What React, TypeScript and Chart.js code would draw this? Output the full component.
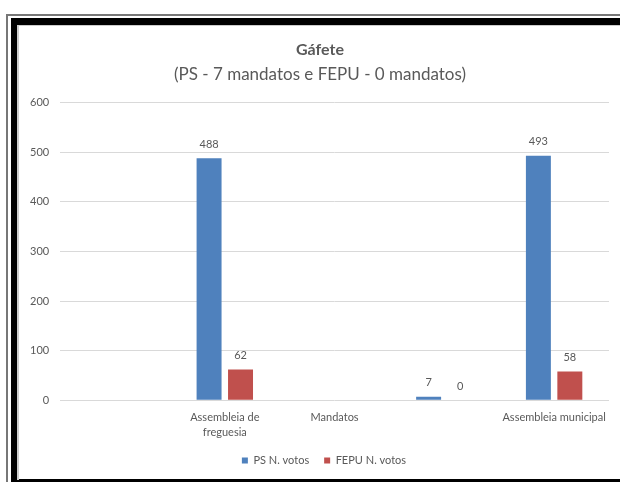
import React, { useEffect, useRef } from "react";
import { Chart, registerables } from "chart.js";

Chart.register(...registerables);

const categories: (string | string[])[] = ["", ["Assembleia de", "freguesia"], "Mandatos", "", "Assembleia municipal"];
const psVotes: (number | null)[] = [null, 488, null, 7, 493];
const fepuVotes: (number | null)[] = [null, 62, null, 0, 58];
const yTicks = [0, 100, 200, 300, 400, 500, 600];

const FONT = "Lato, 'Open Sans', sans-serif";
const GRAY = "#595959";

const valueLabels = {
  id: "valueLabels",
  afterDatasetsDraw(chart: any) {
    const ctx = chart.ctx;
    ctx.save();
    ctx.font = `11px ${FONT}`;
    ctx.fillStyle = GRAY;
    ctx.textAlign = "center";
    ctx.textBaseline = "middle";
    chart.data.datasets.forEach((ds: any, i: number) => {
      const meta = chart.getDatasetMeta(i);
      meta.data.forEach((el: any, j: number) => {
        const v = ds.data[j];
        if (v === null || v === undefined) return;
        ctx.fillText(String(v), el.x, el.y - 14);
      });
    });
    ctx.restore();
  },
};

const shiftBlocks = {
  id: "shiftBlocks",
  afterLayout(chart: any) {
    chart.boxes.forEach((box: any) => {
      if (box.axis) return;
      const d = box === chart.legend ? 10 : 6;
      box.left += d;
      box.right += d;
    });
  },
};

export default function App() {
  const ref = useRef<HTMLCanvasElement | null>(null);
  useEffect(() => {
    if (!ref.current) return;
    const chart = new Chart(ref.current, {
      type: "bar",
      data: {
        labels: categories,
        datasets: [
          { label: "PS N. votos", data: psVotes, backgroundColor: "#4F81BD", categoryPercentage: 0.573, barPercentage: 0.794 },
          { label: "FEPU N. votos", data: fepuVotes, backgroundColor: "#C0504D", categoryPercentage: 0.573, barPercentage: 0.794 },
        ],
      },
      options: {
        animation: false,
        responsive: false,
        maintainAspectRatio: false,
        layout: { padding: { left: 0, right: 11, top: 0, bottom: 3 } },
        plugins: {
          title: {
            display: true,
            text: "Gáfete",
            color: GRAY,
            font: { family: FONT, size: 16, weight: "bold" },
            padding: { top: 14, bottom: 5 },
          },
          subtitle: {
            display: true,
            text: "(PS - 7 mandatos e FEPU - 0 mandatos)",
            color: GRAY,
            font: { family: FONT, size: 17 },
            padding: { top: 0, bottom: 18 },
          },
          legend: {
            position: "bottom",
            labels: {
              boxWidth: 6,
              boxHeight: 6,
              color: GRAY,
              font: { family: FONT, size: 11 },
              padding: 15,
            },
          },
          tooltip: { enabled: false },
        },
        scales: {
          x: {
            grid: { display: false, drawTicks: false },
            border: { display: false },
            afterFit: (scale: any) => {
              scale.height -= 10;
            },
            ticks: {
              color: GRAY,
              font: { family: FONT, size: 11, lineHeight: 1.35 },
              padding: 10,
              autoSkip: false,
              maxRotation: 0,
            },
          },
          y: {
            min: 0,
            max: 600,
            afterBuildTicks: (axis: any) => {
              axis.ticks = yTicks.map((v) => ({ value: v }));
            },
            grid: { color: "#D9D9D9", drawTicks: false },
            border: { display: false },
            ticks: {
              color: GRAY,
              font: { family: FONT, size: 11 },
              padding: 11,
            },
          },
        },
      },
      plugins: [valueLabels, shiftBlocks],
    });
    return () => chart.destroy();
  }, []);

  return (
    <div style={{ position: "fixed", left: 0, top: 0, width: 620, height: 482, overflow: "hidden", background: "#fff" }}>
      <div style={{ position: "absolute", left: 6, top: 14, width: 800, height: 800, borderLeft: "2px solid #777", borderTop: "2px solid #777" }} />
      <div style={{ position: "absolute", left: 11, top: 18, width: 800, height: 454, borderLeft: "6px solid #000", borderTop: "7px solid #000", borderBottom: "6px solid #000" }} />
      <div style={{ position: "absolute", left: 17, top: 25, width: 800, height: 454, borderLeft: "2px solid #ccc", borderTop: "1px solid #ccc" }} />
      <canvas ref={ref} width={601} height={453} style={{ position: "absolute", left: 19, top: 26, width: 601, height: 453 }} />
    </div>
  );
}
